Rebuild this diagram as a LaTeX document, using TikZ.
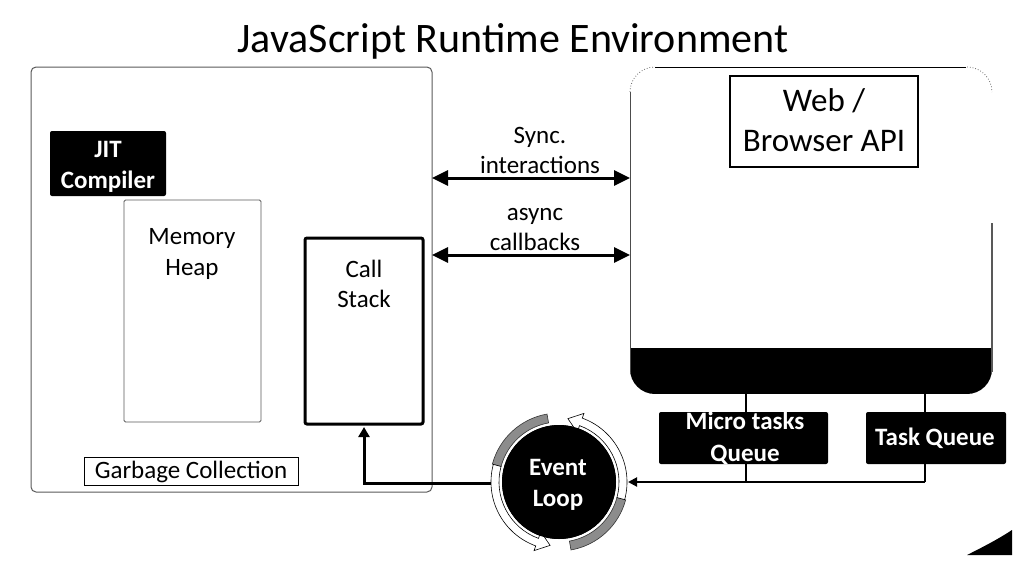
\documentclass[tikz,border=0pt]{standalone}
\usepackage{fontspec}
\setmainfont{Carlito}
\usetikzlibrary{arrows.meta,calc}
\begin{document}
\begin{tikzpicture}[x=1pt,y=-1pt,
  txt/.style={inner sep=0pt, anchor=base, font=\fontsize{25}{30}\selectfont},
  wtxt/.style={inner sep=0pt, anchor=base, text=white, font=\fontsize{25}{30}\selectfont\bfseries},
  box/.style={inner sep=0pt, anchor=north west, outer sep=0pt},
  blackbox/.style={box, fill=black, rounded corners=2pt},
  dblarrow/.style={line width=3pt, {Triangle[length=16pt,width=15pt]}-{Triangle[length=16pt,width=15pt]}},
  feed/.style={line width=3pt, -{Triangle[length=10pt,width=11pt]}},
  qline/.style={line width=2pt},
  ringtail/.style={fill=black!45, draw=black!80, line width=0.6pt},
  ringhead/.style={fill=white, draw=black, line width=0.6pt}
]
\useasboundingbox (0,0) rectangle (1026,563);

% title
\node[inner sep=0pt, anchor=base, font=\fontsize{42}{50}\selectfont] (title) at (513,52) {JavaScript Runtime Environment};

% JavaScript engine
\node[box, draw=black!65, line width=1pt, rounded corners=5pt, minimum width=401pt, minimum height=425pt] (jsr) at (31,67) {};
\node[blackbox, minimum width=116pt, minimum height=65pt] (jit) at (50,131) {};
\node[wtxt] (jit1) at (108,157) {JIT};
\node[wtxt] (jit2) at (108,188) {Compiler};
\node[box, draw=black!65, line width=0.9pt, rounded corners=1.5pt, minimum width=137pt, minimum height=222pt] (mh) at (124,200) {};
\node[txt] (mh1) at (192,244) {Memory};
\node[txt] (mh2) at (192,275) {Heap};
\node[box, draw=black, line width=3pt, rounded corners=2pt, minimum width=118pt, minimum height=186pt] (cs) at (305,238) {};
\node[txt] (cs1) at (364,277) {Call};
\node[txt] (cs2) at (364,307) {Stack};
\node[box, draw=black, line width=0.8pt, minimum width=214pt, minimum height=28pt] (gc) at (84,457) {};
\node[txt] (gc1) at (191,478) {Garbage Collection};

% Web / Browser API container
\node[box, minimum width=362pt, minimum height=327pt] (web) at (630,67) {};
\begin{scope}
  \clip[rounded corners=25pt] (630,67) rectangle (992,394);
  \fill (630,348) rectangle (992,394);
\end{scope}
\draw[black!70, line width=1pt] (630,92) -- (630,372);
\draw[line width=1pt] (655,67) -- (966,67);
\draw[black!60, dotted, line width=0.8pt] (630,92) arc[start angle=180, end angle=90, radius=25pt];
\draw[black!60, dotted, line width=0.8pt] (967,67) arc[start angle=90, end angle=0, radius=25pt];
\draw[black!65, line width=1.2pt] (992,223) -- (992,372);
\node[box, draw=black, line width=2pt, minimum width=188pt, minimum height=91pt] (api) at (730,76) {};
\node[inner sep=0pt, anchor=base, font=\fontsize{33}{40}\selectfont] (api1) at (824,111) {Web /};
\node[inner sep=0pt, anchor=base, font=\fontsize{33}{40}\selectfont] (api2) at (824,151) {Browser API};

% sync / async channels
\coordinate (sy) at (0,178);
\coordinate (ay) at (0,255);
\draw[dblarrow] (jsr.east |- sy) -- (web.west |- sy);
\draw[dblarrow] (jsr.east |- ay) -- (web.west |- ay);
\node[txt] (s1) at (540,143) {Sync.};
\node[txt] (s2) at (540,173) {interactions};
\node[txt] (a1) at (535,220) {async};
\node[txt] (a2) at (535,250) {callbacks};

% queues
\node[blackbox, minimum width=169pt, minimum height=52pt] (mq) at (659,412) {};
\node[wtxt] (mq1) at (745,429) {Micro tasks};
\node[wtxt] (mq2) at (745,461) {Queue};
\node[blackbox, minimum width=140pt, minimum height=52pt] (tq) at (866,412) {};
\node[wtxt] (tq1) at (935,445) {Task Queue};

% event loop
\node[circle, fill=black, inner sep=0pt, minimum size=114pt] (el) at (559,482) {};
\coordinate (ly) at (0,482);
\coordinate (mqx) at (746,0);
\coordinate (tqx) at (925,0);
\coordinate (elr) at (628,482);
\coordinate (ell) at (495,483);

\draw[qline] (mqx |- web.south) -- (mqx |- mq.north);
\draw[qline] (mqx |- mq.south) -- (mqx |- ly);
\draw[qline] (tqx |- web.south) -- (tqx |- tq.north);
\draw[qline] (tqx |- tq.south) -- (tqx |- ly);
\draw[qline, -{Triangle[length=9pt,width=9pt]}] (tqx |- ly) -- (elr);
\draw[feed, shorten >=3pt] (ell) -| (cs.south);

% circular arrows round the event loop
\foreach \a/\b in {-80/-15, 100/165}
  \draw[ringtail] ($(el)+(\a:69pt)$) arc[start angle=\a, end angle=\b, radius=69pt]
    -- ($(el)+(\b:60pt)$) arc[start angle=\b, end angle=\a, radius=60pt] -- cycle;
\foreach \a/\b/\t in {-15/70/82, 165/250/262}
  \draw[ringhead] ($(el)+(\a:68pt)$) arc[start angle=\a, end angle=\b, radius=68pt]
    -- ($(el)+(\b:73pt)$) -- ($(el)+(\t:64pt)$) -- ($(el)+(\b:53pt)$)
    -- ($(el)+(\b:60pt)$) arc[start angle=\b, end angle=\a, radius=60pt] -- cycle;
\node[circle, fill=black, inner sep=0pt, minimum size=114pt] at (el) {};
\node[wtxt] (el1) at (558,475) {Event};
\node[wtxt] (el2) at (558,506) {Loop};

% corner wedge
\fill (967,555) .. controls (985,546) and (1000,538) .. (1012,530) -- (1012,555) -- cycle;
\end{tikzpicture}
\end{document}
